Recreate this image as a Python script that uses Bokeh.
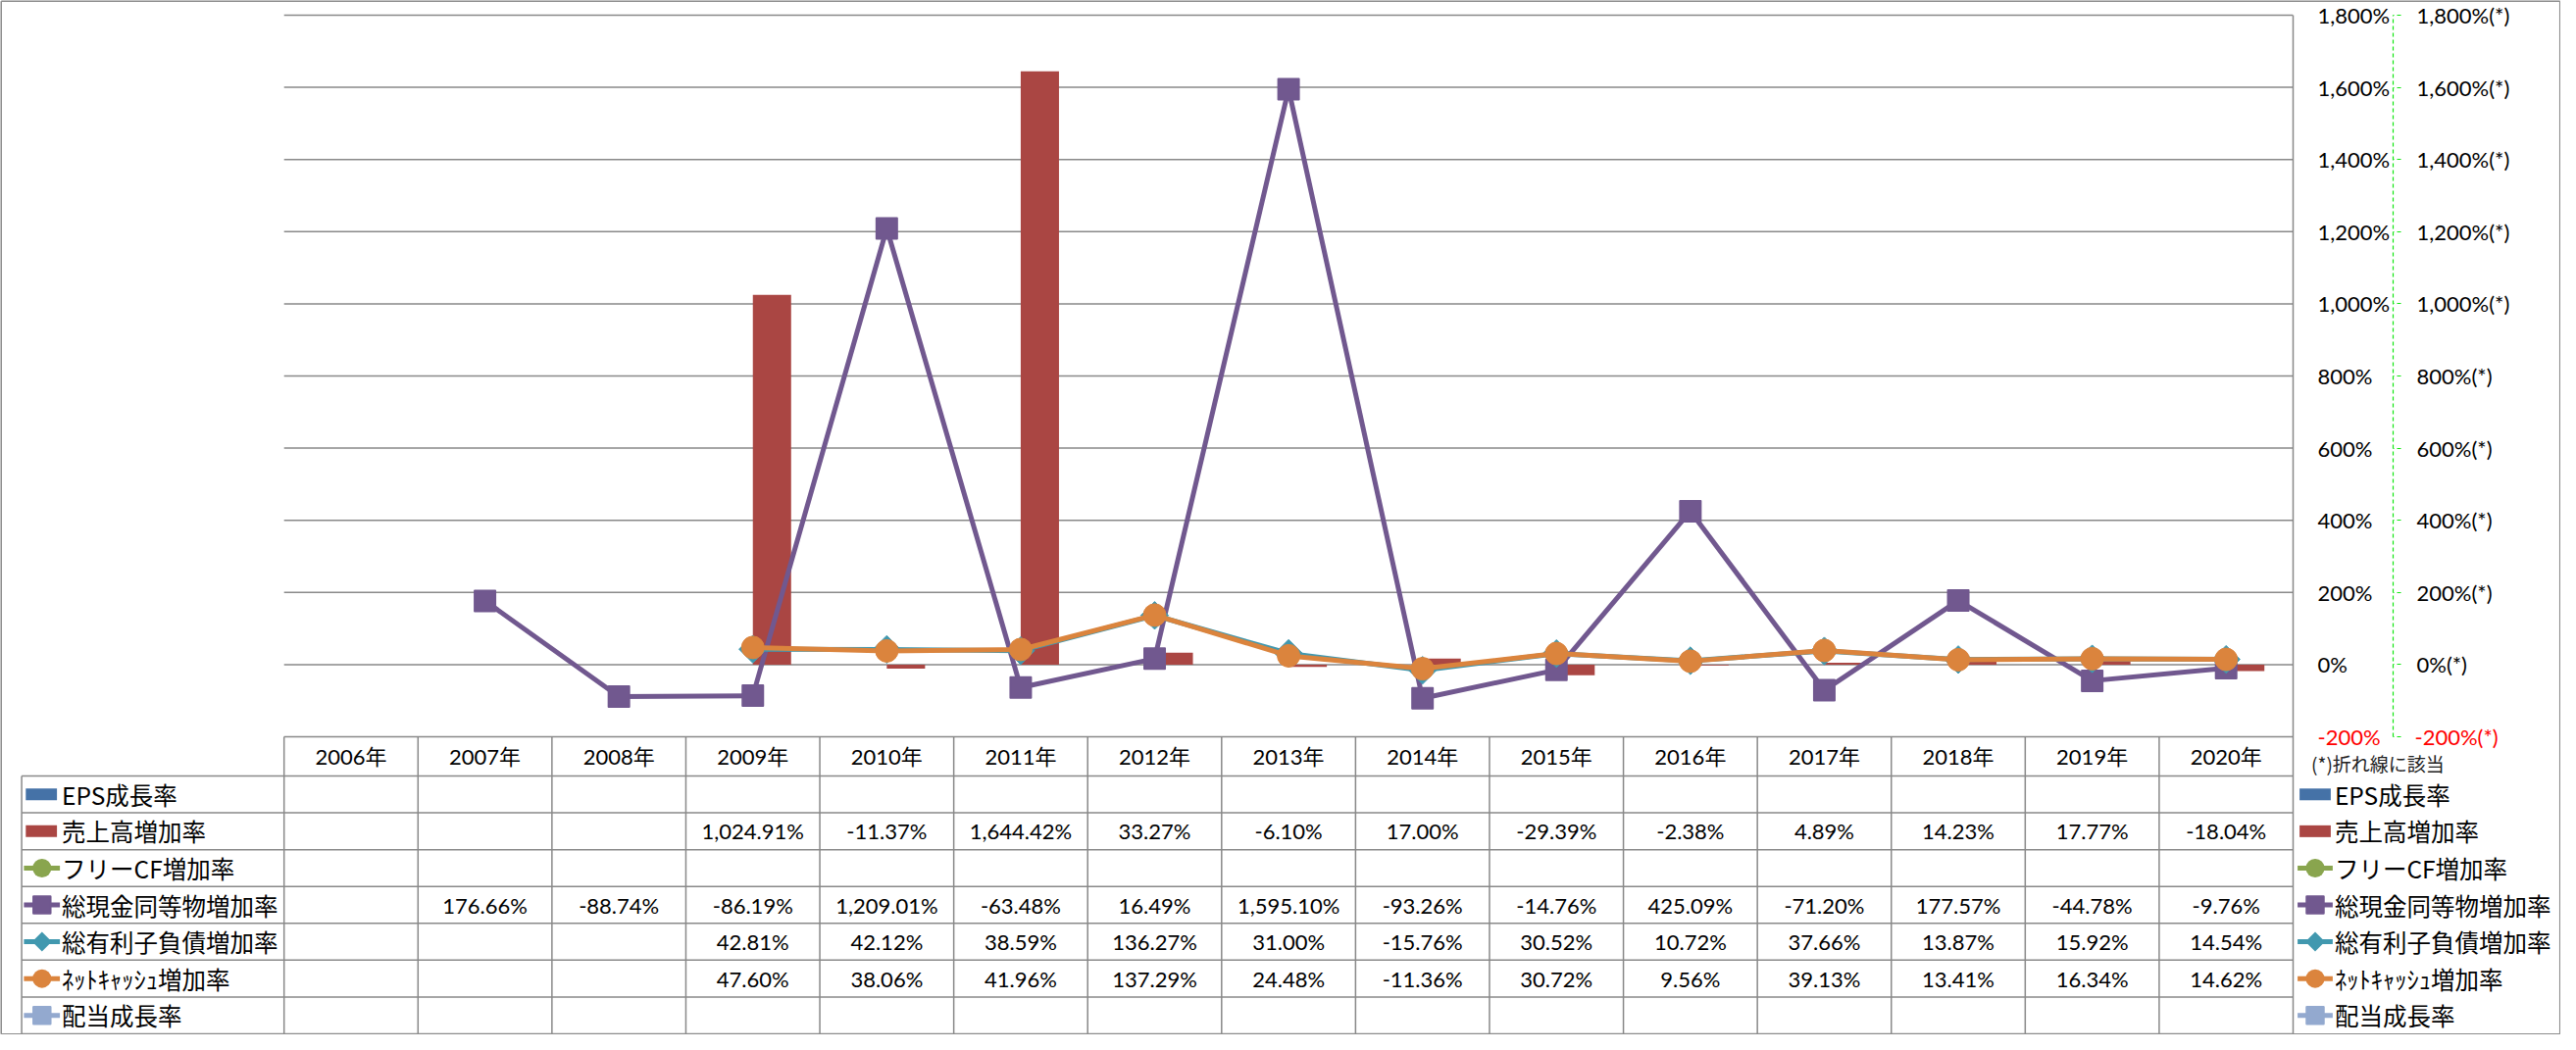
import math
from bokeh.plotting import figure
from bokeh.models import Range1d, LinearAxis, FixedTicker
from bokeh.core.properties import value
from bokeh.embed import file_html
from bokeh.resources import INLINE

nan = float("nan")

# ---------------- data ----------------
years = ["2006年", "2007年", "2008年", "2009年", "2010年", "2011年", "2012年", "2013年",
         "2014年", "2015年", "2016年", "2017年", "2018年", "2019年", "2020年"]
eps_growth = [nan, nan, nan, nan, nan, nan, nan, nan, nan, nan, nan, nan, nan, nan, nan]
sales_growth = [nan, nan, nan, 1024.91, -11.37, 1644.42, 33.27, -6.10, 17.00, -29.39,
                -2.38, 4.89, 14.23, 17.77, -18.04]
fcf_growth = [nan, nan, nan, nan, nan, nan, nan, nan, nan, nan, nan, nan, nan, nan, nan]
cash_growth = [nan, 176.66, -88.74, -86.19, 1209.01, -63.48, 16.49, 1595.10, -93.26,
               -14.76, 425.09, -71.20, 177.57, -44.78, -9.76]
debt_growth = [nan, nan, nan, 42.81, 42.12, 38.59, 136.27, 31.00, -15.76, 30.52,
               10.72, 37.66, 13.87, 15.92, 14.54]
netcash_growth = [nan, nan, nan, 47.60, 38.06, 41.96, 137.29, 24.48, -11.36, 30.72,
                  9.56, 39.13, 13.41, 16.34, 14.62]
div_growth = [nan, nan, nan, nan, nan, nan, nan, nan, nan, nan, nan, nan, nan, nan, nan]

series_names = ["EPS成長率", "売上高増加率", "フリーCF増加率", "総現金同等物増加率",
                "総有利子負債増加率", "ﾈｯﾄｷｬｯｼｭ増加率", "配当成長率"]
y_ticks = [-200, 0, 200, 400, 600, 800, 1000, 1200, 1400, 1600, 1800]
left_tick_labels = ["-200%", "0%", "200%", "400%", "600%", "800%", "1,000%", "1,200%",
                    "1,400%", "1,600%", "1,800%"]
right_tick_labels = ["-200%(*)", "0%(*)", "200%(*)", "400%(*)", "600%(*)", "800%(*)",
                     "1,000%(*)", "1,200%(*)", "1,400%(*)", "1,600%(*)", "1,800%(*)"]
note_text = "(*)折れ線に該当"

# ---------------- styles ----------------
C_EPS = "#4572A7"
C_SALES = "#AA4643"
C_FCF = "#89A54E"
C_CASH = "#71588F"
C_DEBT = "#4198AF"
C_NET = "#DB843D"
C_DIV = "#93A9CF"
GRID_C = "#898989"
AX_GREEN = "#11e611"
NUM_FONT = value("Lato, Noto Sans CJK JP")
JP_FONT = value("Noto Sans CJK JP")

all_series = [eps_growth, sales_growth, fcf_growth, cash_growth, debt_growth,
              netcash_growth, div_growth]
series_colors = [C_EPS, C_SALES, C_FCF, C_CASH, C_DEBT, C_NET, C_DIV]
swatch_kind = ["bar", "bar", "circle", "square", "diamond", "circle", "square"]

# ---------------- layout (pixels) ----------------
W, H = 2611, 1055
FRAME_L, FRAME_R = 12, 2338
X0 = 289.2                      # pixel x of first table column
NCOL = len(years)
COL = (FRAME_R - X0) / NCOL
TOP, BOT = 15.0, 751.0          # pixel y of top tick and bottom tick
K = (BOT - TOP) / (y_ticks[-1] - y_ticks[0])
Y_END = y_ticks[-1] + TOP / K
Y_START = y_ticks[0] - (H - BOT) / K


def ux(fx):
    return (fx - X0) / COL


def uy(fy):
    return Y_END - fy / K


def dx(px):
    return px / COL


def dy(px):
    return px / K


HEADER_B = 791.0
TABLE_B = 1054.0
NROW = len(series_names)
ROW_H = (TABLE_B - HEADER_B) / NROW
row_lines = [HEADER_B + i * ROW_H for i in range(NROW + 1)]
row_centers = [uy(HEADER_B + (i + 0.5) * ROW_H) for i in range(NROW)]

p = figure(width=W, height=H,
           x_range=Range1d(ux(FRAME_L), NCOL), y_range=Range1d(Y_START, Y_END),
           x_axis_location=None, y_axis_location="right",
           output_backend="svg", toolbar_location=None,
           min_border_left=FRAME_L, min_border_right=W - FRAME_R,
           min_border_top=0, min_border_bottom=0)
p.outline_line_color = None
p.grid.visible = False
p.background_fill_color = "white"
p.border_fill_color = "white"

# gridlines of the chart area
p.segment(x0=[0] * len(y_ticks), x1=[NCOL] * len(y_ticks), y0=y_ticks, y1=y_ticks,
          line_color=GRID_C, line_width=1.5)

# table lines
leg_left = ux(21.6)
p.segment(x0=[leg_left] * len(row_lines), x1=[NCOL] * len(row_lines),
          y0=[uy(v) for v in row_lines], y1=[uy(v) for v in row_lines],
          line_color=GRID_C, line_width=1.5)
p.segment(x0=list(range(NCOL)), x1=list(range(NCOL)),
          y0=[uy(BOT)] * NCOL, y1=[uy(TABLE_B)] * NCOL,
          line_color=GRID_C, line_width=1.5)
p.segment(x0=[leg_left], x1=[leg_left], y0=[uy(HEADER_B)], y1=[uy(TABLE_B)],
          line_color=GRID_C, line_width=1.5)
# right border of plot/table
p.segment(x0=[NCOL], x1=[NCOL], y0=[y_ticks[-1]], y1=[uy(TABLE_B)],
          line_color=GRID_C, line_width=1.5, level="overlay")

# bars
bar_w = 1 / 3.5
xc = [i + 0.5 for i in range(NCOL)]
p.vbar(x=[x - bar_w / 2 for x in xc], width=bar_w, top=eps_growth, bottom=0,
       fill_color=C_EPS, line_color=None)
p.vbar(x=[x + bar_w / 2 for x in xc], width=bar_w, top=sales_growth, bottom=0,
       fill_color=C_SALES, line_color=None)

# lines
LW = 5
p.line(xc, fcf_growth, line_color=C_FCF, line_width=LW)
p.scatter(xc, fcf_growth, marker="circle", size=23, fill_color=C_FCF, line_color=C_FCF)
p.line(xc, cash_growth, line_color=C_CASH, line_width=LW)
p.scatter(xc, cash_growth, marker="square", size=21, fill_color=C_CASH, line_color=C_CASH,
          line_width=2, line_join="round")
p.line(xc, debt_growth, line_color=C_DEBT, line_width=LW)
p.scatter(xc, debt_growth, marker="square", angle=math.pi / 4, size=20, fill_color=C_DEBT,
          line_color=C_DEBT, line_width=1)
p.line(xc, netcash_growth, line_color=C_NET, line_width=LW)
p.scatter(xc, netcash_growth, marker="circle", size=23, fill_color=C_NET, line_color=C_NET)
p.line(xc, div_growth, line_color=C_DIV, line_width=LW)
p.scatter(xc, div_growth, marker="square", size=21, fill_color=C_DIV, line_color=C_DIV,
          line_width=2, line_join="round")

# table header (years)
p.text(x=xc, y=[uy((BOT + HEADER_B) / 2)] * NCOL, text=years, text_font=NUM_FONT,
       text_font_size="22px", text_align="center", text_baseline="middle",
       text_color="black")

# table values
cx, cy, ct = [], [], []
for r, vals in enumerate(all_series):
    for c, v in enumerate(vals):
        if not math.isnan(v):
            cx.append(c + 0.5)
            cy.append(row_centers[r])
            ct.append(f"{v:,.2f}%")
p.text(x=cx, y=cy, text=ct, text_font=NUM_FONT, text_font_size="22px",
       text_align="center", text_baseline="middle", text_color="black")


def draw_legend(sw_l, sw_r, line_l, line_r, mk_x, text_x, level):
    half_bar = dy(6)
    for i, (kind, col) in enumerate(zip(swatch_kind, series_colors)):
        yc = row_centers[i]
        mx = ux(mk_x)
        if kind == "bar":
            p.quad(left=[ux(sw_l)], right=[ux(sw_r)], top=[yc + half_bar],
                   bottom=[yc - half_bar], fill_color=col, line_color=None, level=level)
            continue
        p.segment(x0=[ux(line_l)], x1=[ux(line_r)], y0=[yc], y1=[yc],
                  line_color=col, line_width=LW, level=level)
        if kind == "diamond":
            d = 20.0
            p.segment(x0=[mx - dx(d / 4)], x1=[mx + dx(d / 4)],
                      y0=[yc - dy(d / 4)], y1=[yc + dy(d / 4)],
                      line_color=col, line_width=d / math.sqrt(2), line_cap="butt",
                      level=level)
        elif kind == "square":
            s = 17.0
            p.quad(left=[mx - dx(s / 2)], right=[mx + dx(s / 2)],
                   top=[yc + dy(s / 2)], bottom=[yc - dy(s / 2)],
                   fill_color=col, line_color=col, line_width=2.5, line_join="round",
                   level=level)
        else:
            p.segment(x0=[mx - dx(0.05)], x1=[mx + dx(0.05)], y0=[yc], y1=[yc],
                      line_color=col, line_width=19, line_cap="round", level=level)
    p.text(x=[ux(text_x)] * NROW, y=row_centers, text=series_names, text_font=JP_FONT,
           text_font_size="24.5px", text_align="left", text_baseline="middle",
           text_color="black", level=level)


# legend inside the table (left column)
draw_legend(25.8, 57.6, 23.9, 60.6, 42.3, 62.6, "glyph")
# legend on the right side
draw_legend(2344.6, 2376.4, 2342.6, 2378.4, 2360.5, 2380.4, "overlay")

# axes (both on the right)
ax1 = p.yaxis[0]
ax1.ticker = FixedTicker(ticks=y_ticks)
ax1.bounds = (y_ticks[0], y_ticks[-1])
ax1.axis_line_color = None
ax1.major_tick_line_color = None
ax1.major_tick_out = 0
ax1.major_tick_in = 0
ax1.minor_tick_line_color = None
ax1.minor_tick_out = 0
ax1.major_label_standoff = 25
ax1.major_label_overrides = {t: (l if t != y_ticks[0] else " ")
                             for t, l in zip(y_ticks, left_tick_labels)}
ax1.major_label_text_font = "Lato"
ax1.major_label_text_font_size = "22px"
ax1.major_label_text_color = "black"

ax2 = LinearAxis(ticker=FixedTicker(ticks=y_ticks), bounds=(y_ticks[0], y_ticks[-1]))
ax2.axis_line_color = AX_GREEN
ax2.axis_line_dash = "4 3"
ax2.axis_line_width = 1.2
ax2.major_tick_line_color = AX_GREEN
ax2.major_tick_line_dash = "4 3"
ax2.major_tick_out = 8
ax2.major_tick_in = 0
ax2.minor_tick_line_color = None
ax2.minor_tick_out = 0
ax2.major_label_standoff = 16
ax2.major_label_overrides = {t: (l if t != y_ticks[0] else " ")
                             for t, l in zip(y_ticks, right_tick_labels)}
ax2.major_label_text_font = "Lato"
ax2.major_label_text_font_size = "22px"
ax2.major_label_text_color = "black"
p.add_layout(ax2, "right")

# red labels of the lowest tick
p.text(x=[ux(FRAME_R + 25), ux(FRAME_R + 100 + 8 + 16)], y=[y_ticks[0]] * 2,
       text=[left_tick_labels[0], right_tick_labels[0]], text_font=value("Lato"),
       text_font_size="22px", text_align="left", text_baseline="middle",
       text_color="#FF0000", level="overlay")

# note
p.text(x=[ux(2356.6)], y=[uy(778)], text=[note_text], text_font=JP_FONT,
       text_font_size="19px", text_align="left", text_baseline="middle",
       text_color="#222222", level="overlay")

# outer chart border
p.segment(x0=[ux(0.75), ux(0.75), ux(0.75), ux(2610.2)],
          x1=[ux(2610.2), ux(2610.2), ux(0.75), ux(2610.2)],
          y0=[uy(0.75), uy(1054.2), uy(0.75), uy(0.75)],
          y1=[uy(0.75), uy(1054.2), uy(1054.2), uy(1054.2)],
          line_color="#8c8c8c", line_width=1.5, level="overlay")

open("out.html", "w").write(file_html(p, INLINE))
